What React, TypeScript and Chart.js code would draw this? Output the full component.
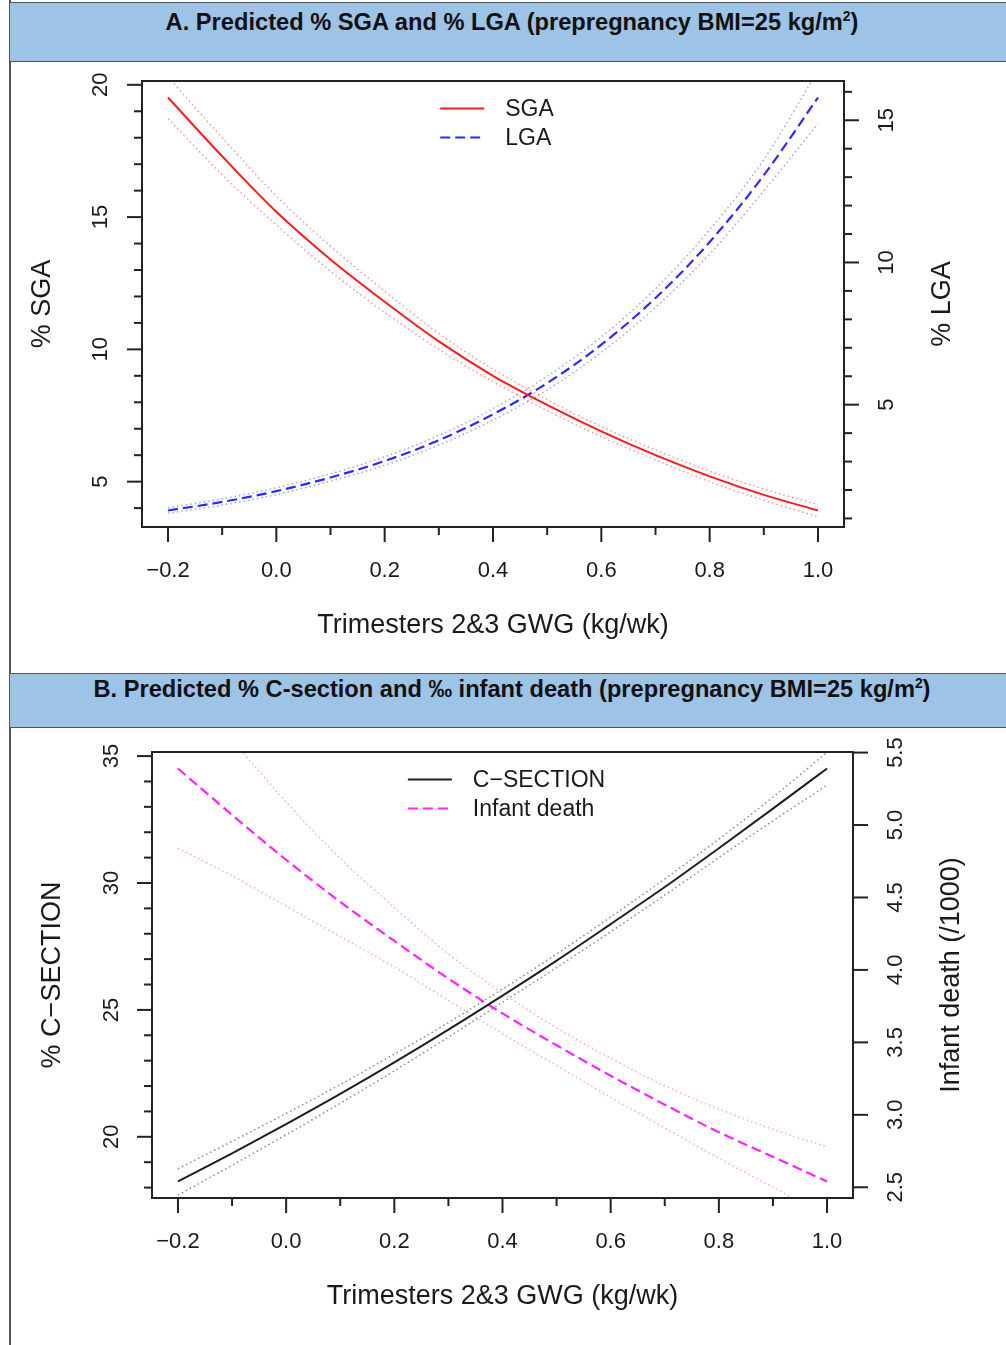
import React, { useEffect, useLayoutEffect, useRef } from "react";
import { Chart, registerables } from "chart.js";

Chart.register(...registerables);

const FONT = "'Liberation Sans', Arial, Helvetica, sans-serif";
const TEXT = "#1a1a1a";
const AXIS = "#222222";

// ---------- shared x ----------
const gwg = [-0.2, -0.1, 0.0, 0.1, 0.2, 0.3, 0.4, 0.5, 0.6, 0.7, 0.8, 0.9, 1.0];
const xMajorTicks = [-0.2, 0.0, 0.2, 0.4, 0.6, 0.8, 1.0];
const xTickLabels = ["\u22120.2", "0.0", "0.2", "0.4", "0.6", "0.8", "1.0"];
const xMinorTicks = [-0.1, 0.1, 0.3, 0.5, 0.7, 0.9];
const xTitle = "Trimesters 2&3 GWG (kg/wk)";

// ---------- panel A ----------
const sga = [19.52, 17.3, 15.2, 13.4, 11.8, 10.3, 9.0, 7.9, 6.9, 6.0, 5.2, 4.5, 3.91];
const sgaUpper = [20.3, 18.0, 15.8, 13.9, 12.2, 10.6, 9.25, 8.1, 7.08, 6.2, 5.4, 4.72, 4.13];
const sgaLower = [18.72, 16.6, 14.7, 12.95, 11.4, 10.0, 8.78, 7.68, 6.7, 5.82, 5.0, 4.3, 3.67];
const lga = [1.28, 1.58, 1.96, 2.44, 3.02, 3.75, 4.66, 5.76, 7.11, 8.75, 10.72, 13.07, 15.8];
const lgaUpper = [1.38, 1.69, 2.08, 2.57, 3.17, 3.92, 4.86, 6.0, 7.38, 9.08, 11.15, 13.62, 16.75];
const lgaLower = [1.18, 1.47, 1.84, 2.31, 2.87, 3.58, 4.46, 5.52, 6.84, 8.42, 10.3, 12.52, 14.88];
const sgaMajorTicks = [5, 10, 15, 20];
const sgaTickLabels = ["5", "10", "15", "20"];
const sgaMinorTicks = [4, 6, 7, 8, 9, 11, 12, 13, 14, 16, 17, 18, 19];
const lgaMajorTicks = [5, 10, 15];
const lgaTickLabels = ["5", "10", "15"];
const lgaMinorTicks = [1, 2, 3, 4, 6, 7, 8, 9, 11, 12, 13, 14, 16];

// ---------- panel B ----------
const csec = [18.24, 19.35, 20.5, 21.69, 22.93, 24.22, 25.56, 26.94, 28.38, 29.84, 31.37, 32.93, 34.51];
const csecUpper = [18.74, 19.82, 20.92, 22.06, 23.26, 24.5, 25.82, 27.2, 28.66, 30.16, 31.73, 33.38, 35.15];
const csecLower = [17.7, 18.88, 20.08, 21.32, 22.6, 23.93, 25.3, 26.67, 28.08, 29.52, 31.0, 32.45, 33.85];
const infant = [5.39, 5.07, 4.76, 4.47, 4.2, 3.94, 3.7, 3.48, 3.27, 3.07, 2.88, 2.71, 2.54];
const infantUpper = [6.05, 5.59, 5.16, 4.77, 4.43, 4.11, 3.84, 3.6, 3.39, 3.2, 3.04, 2.9, 2.78];
const infantLower = [4.84, 4.65, 4.44, 4.23, 4.02, 3.79, 3.56, 3.34, 3.12, 2.91, 2.7, 2.5, 2.3];
const csecMajorTicks = [20, 25, 30, 35];
const csecTickLabels = ["20", "25", "30", "35"];
const csecMinorTicks = [18, 19, 21, 22, 23, 24, 26, 27, 28, 29, 31, 32, 33, 34];
const infantMajorTicks = [2.5, 3.0, 3.5, 4.0, 4.5, 5.0, 5.5];
const infantTickLabels = ["2.5", "3.0", "3.5", "4.0", "4.5", "5.0", "5.5"];
const infantMinorTicks: number[] = [];

// ---------- helpers ----------
function rRange(arr: number[]): [number, number] {
  const lo = Math.min(...arr);
  const hi = Math.max(...arr);
  const pad = (hi - lo) * 0.04;
  return [lo - pad, hi + pad];
}

function pts(ys: number[]) {
  return gwg.map((x, i) => ({ x, y: ys[i] }));
}

function line(label: string, ys: number[], axis: string, color: string, width: number, dash: number[]) {
  return {
    label,
    data: pts(ys),
    yAxisID: axis,
    borderColor: color,
    backgroundColor: color,
    borderWidth: width,
    borderDash: dash,
    pointRadius: 0,
    fill: false,
    cubicInterpolationMode: "monotone" as const,
    clip: 0,
  };
}

type YAxisSpec = {
  id: string;
  side: "left" | "right";
  major: number[];
  labels: string[];
  minor: number[];
  title: string;
  labelOffset: number;
};

type PanelSpec = {
  yAxes: YAxisSpec[];
  legend: number[];
};

const MAJOR_LEN = 15;
const MINOR_LEN = 8;

function makeAxesPlugin(spec: PanelSpec) {
  return {
    id: "rAxes",
    afterDatasetsDraw(chart: any) {
      const ctx: CanvasRenderingContext2D = chart.ctx;
      const { left, right, top, bottom } = chart.chartArea;
      const cx = (left + right) / 2;
      const cy = (top + bottom) / 2;
      ctx.save();
      ctx.setLineDash([]);
      ctx.strokeStyle = AXIS;
      ctx.lineWidth = 2;
      ctx.strokeRect(left, top, right - left, bottom - top);

      // x axis
      const xs = chart.scales.x;
      ctx.fillStyle = TEXT;
      ctx.font = `22px ${FONT}`;
      ctx.textAlign = "center";
      ctx.textBaseline = "middle";
      xMajorTicks.forEach((v, i) => {
        const px = xs.getPixelForValue(v);
        ctx.beginPath();
        ctx.moveTo(px, bottom);
        ctx.lineTo(px, bottom + MAJOR_LEN);
        ctx.stroke();
        ctx.fillText(xTickLabels[i], px, bottom + 44);
      });
      xMinorTicks.forEach((v) => {
        const px = xs.getPixelForValue(v);
        ctx.beginPath();
        ctx.moveTo(px, bottom);
        ctx.lineTo(px, bottom + MINOR_LEN);
        ctx.stroke();
      });
      ctx.font = `27px ${FONT}`;
      ctx.fillText(xTitle, cx, bottom + 99);

      // y axes
      spec.yAxes.forEach((ax) => {
        const sc = chart.scales[ax.id];
        const edge = ax.side === "left" ? left : right;
        const dir = ax.side === "left" ? -1 : 1;
        ctx.font = `22px ${FONT}`;
        ax.major.forEach((v, i) => {
          const py = sc.getPixelForValue(v);
          ctx.beginPath();
          ctx.moveTo(edge, py);
          ctx.lineTo(edge + dir * MAJOR_LEN, py);
          ctx.stroke();
          ctx.save();
          ctx.translate(edge + dir * ax.labelOffset, py);
          ctx.rotate(-Math.PI / 2);
          ctx.fillText(ax.labels[i], 0, 0);
          ctx.restore();
        });
        ax.minor.forEach((v) => {
          const py = sc.getPixelForValue(v);
          ctx.beginPath();
          ctx.moveTo(edge, py);
          ctx.lineTo(edge + dir * MINOR_LEN, py);
          ctx.stroke();
        });
        ctx.font = `27px ${FONT}`;
        ctx.save();
        ctx.translate(edge + dir * 99, cy);
        ctx.rotate(-Math.PI / 2);
        ctx.fillText(ax.title, 0, 0);
        ctx.restore();
      });

      // legend
      const items = spec.legend.map((i) => chart.data.datasets[i]);
      ctx.font = `23px ${FONT}`;
      const maxW = Math.max(...items.map((d: any) => ctx.measureText(d.label).width));
      const sample = 44;
      const gap = 21;
      const w = sample + gap + maxW;
      const x0 = cx - w / 2 + 4;
      items.forEach((d: any, k: number) => {
        const y = top + 27.5 + k * 29;
        ctx.strokeStyle = d.borderColor;
        ctx.lineWidth = d.borderWidth;
        ctx.setLineDash(d.borderDash || []);
        ctx.beginPath();
        ctx.moveTo(x0, y);
        ctx.lineTo(x0 + sample, y);
        ctx.stroke();
        ctx.setLineDash([]);
        ctx.fillStyle = TEXT;
        ctx.textAlign = "left";
        ctx.fillText(d.label, x0 + sample + gap, y + 1);
      });
      ctx.restore();
    },
  };
}

type PanelProps = {
  top: number;
  height: number;
  padding: { left: number; right: number; top: number; bottom: number };
  datasets: any[];
  yLeft: { id: string; range: [number, number] };
  yRight: { id: string; range: [number, number] };
  spec: PanelSpec;
};

function Panel(props: PanelProps) {
  const ref = useRef<HTMLCanvasElement>(null);
  useEffect(() => {
    if (!ref.current) return;
    const [xMin, xMax] = rRange(gwg);
    const chart = new Chart(ref.current, {
      type: "line",
      data: { datasets: props.datasets },
      options: {
        animation: false,
        responsive: false,
        maintainAspectRatio: false,
        devicePixelRatio: 1,
        events: [],
        layout: { padding: props.padding },
        plugins: { legend: { display: false }, tooltip: { enabled: false }, title: { display: false } },
        scales: {
          x: { type: "linear", min: xMin, max: xMax, display: false },
          [props.yLeft.id]: {
            type: "linear",
            position: "left",
            min: props.yLeft.range[0],
            max: props.yLeft.range[1],
            display: false,
          },
          [props.yRight.id]: {
            type: "linear",
            position: "right",
            min: props.yRight.range[0],
            max: props.yRight.range[1],
            display: false,
          },
        },
      } as any,
      plugins: [makeAxesPlugin(props.spec) as any],
    });
    return () => chart.destroy();
  }, []);
  return (
    <canvas
      ref={ref}
      width={1006}
      height={props.height}
      style={{ position: "absolute", left: 0, top: props.top, width: 1006, height: props.height }}
    />
  );
}

function HeaderText(props: { cx: number; cy: number; width: number; children: React.ReactNode }) {
  const ref = useRef<HTMLSpanElement>(null);
  useLayoutEffect(() => {
    const el = ref.current;
    if (!el) return;
    const w = el.offsetWidth;
    const s = props.width / w;
    el.style.transform = `translate(-50%, -50%) scaleX(${s})`;
  }, []);
  return (
    <span
      ref={ref}
      style={{
        position: "absolute",
        left: props.cx,
        top: props.cy,
        whiteSpace: "nowrap",
        fontFamily: FONT,
        fontWeight: "bold",
        fontSize: 24,
        lineHeight: "28px",
        color: "#111",
        transform: "translate(-50%, -50%)",
      }}
    >
      {props.children}
    </span>
  );
}

export default function App() {
  const datasetsA = [
    line("SGA", sga, "ySGA", "#ff1a1a", 2, []),
    line("SGA upper 95% CI", sgaUpper, "ySGA", "rgba(255,60,60,0.55)", 1.5, [1.5, 3]),
    line("SGA lower 95% CI", sgaLower, "ySGA", "rgba(255,60,60,0.55)", 1.5, [1.5, 3]),
    line("LGA", lga, "yLGA", "#2a2aff", 2.2, [10, 5]),
    line("LGA upper 95% CI", lgaUpper, "yLGA", "rgba(70,70,255,0.5)", 1.5, [1.5, 3]),
    line("LGA lower 95% CI", lgaLower, "yLGA", "rgba(70,70,255,0.5)", 1.5, [1.5, 3]),
  ];
  const datasetsB = [
    line("C\u2212SECTION", csec, "yCS", "#1e1e1e", 2, []),
    line("C-section upper 95% CI", csecUpper, "yCS", "rgba(60,60,60,0.6)", 1.5, [1.5, 3]),
    line("C-section lower 95% CI", csecLower, "yCS", "rgba(60,60,60,0.6)", 1.5, [1.5, 3]),
    line("Infant death", infant, "yID", "#ff22ff", 2.2, [10, 5]),
    line("Infant death upper 95% CI", infantUpper, "yID", "rgba(255,80,255,0.55)", 1.5, [1.5, 3]),
    line("Infant death lower 95% CI", infantLower, "yID", "rgba(255,80,255,0.55)", 1.5, [1.5, 3]),
  ];

  const specA: PanelSpec = {
    yAxes: [
      { id: "ySGA", side: "left", major: sgaMajorTicks, labels: sgaTickLabels, minor: sgaMinorTicks, title: "% SGA", labelOffset: 41 },
      { id: "yLGA", side: "right", major: lgaMajorTicks, labels: lgaTickLabels, minor: lgaMinorTicks, title: "% LGA", labelOffset: 43 },
    ],
    legend: [0, 3],
  };
  const specB: PanelSpec = {
    yAxes: [
      { id: "yCS", side: "left", major: csecMajorTicks, labels: csecTickLabels, minor: csecMinorTicks, title: "% C\u2212SECTION", labelOffset: 40 },
      { id: "yID", side: "right", major: infantMajorTicks, labels: infantTickLabels, minor: infantMinorTicks, title: "Infant death (/1000)", labelOffset: 43 },
    ],
    legend: [0, 3],
  };

  const band = (top: number, height: number) => (
    <div
      style={{
        position: "absolute",
        left: 10,
        top,
        width: 996,
        height,
        background: "#9dc3e6",
        borderTop: "1.5px solid #555",
        borderBottom: "1.5px solid #555",
        boxSizing: "border-box",
      }}
    />
  );

  return (
    <div style={{ position: "absolute", left: 0, top: 0, width: 1006, height: 1345, background: "#fff", overflow: "hidden" }}>
      <div style={{ position: "absolute", left: 9, top: 0, width: 1.5, height: 1345, background: "#555" }} />
      {band(2, 60)}
      <HeaderText cx={511.5} cy={22} width={693}>
        A. Predicted % SGA and % LGA (prepregnancy BMI=25 kg/m<sup style={{ fontSize: 14, lineHeight: 0 }}>2</sup>)
      </HeaderText>
      <Panel
        top={62}
        height={611}
        padding={{ left: 142, top: 19, right: 162, bottom: 146 }}
        datasets={datasetsA}
        yLeft={{ id: "ySGA", range: rRange(sga) }}
        yRight={{ id: "yLGA", range: rRange(lga) }}
        spec={specA}
      />
      {band(673, 55)}
      <HeaderText cx={511.5} cy={689} width={837}>
        B. Predicted % C-section and ‰ infant death (prepregnancy BMI=25 kg/m<sup style={{ fontSize: 14, lineHeight: 0 }}>2</sup>)
      </HeaderText>
      <Panel
        top={727}
        height={618}
        padding={{ left: 152, top: 25, right: 153, bottom: 147 }}
        datasets={datasetsB}
        yLeft={{ id: "yCS", range: rRange(csec) }}
        yRight={{ id: "yID", range: rRange(infant) }}
        spec={specB}
      />
    </div>
  );
}
